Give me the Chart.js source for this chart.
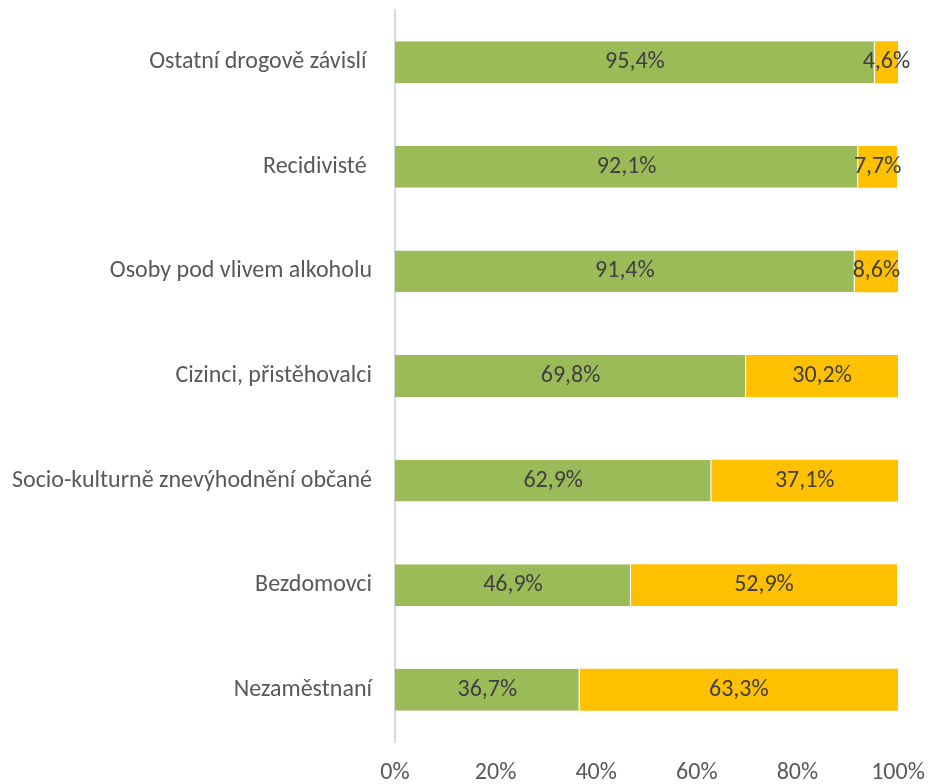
<!DOCTYPE html>
<html>
<head>
<meta charset="utf-8">
<script src="https://cdn.jsdelivr.net/npm/chart.js@4"></script>
<style>
  html, body { margin: 0; padding: 0; background: #fff; }
  #wrap { width: 929px; height: 784px; }
</style>
</head>
<body>
<div id="wrap"><canvas id="chart" width="929" height="784"></canvas></div>
<script>
// Categories and shares (percent)
const categories = [
    'Ostatní drogově závislí ',
    'Recidivisté ',
    'Osoby pod vlivem alkoholu',
    'Cizinci, přistěhovalci',
    'Socio-kulturně znevýhodnění občané',
    'Bezdomovci',
    'Nezaměstnaní'
];
const greenValues = [95.4, 92.1, 91.4, 69.8, 62.9, 46.9, 36.7];
const yellowValues = [4.6, 7.7, 8.6, 30.2, 37.1, 52.9, 63.3];
const tickValues = [0, 20, 40, 60, 80, 100];

const FONT = 'Calibri, Carlito, Lato, sans-serif';
const FONT_SIZE = 24;

// Value labels in the middle of each segment, plus axis labels
// (drawn here so the scales don't add their own padding around the plot)
const labelsPlugin = {
    id: 'labelsPlugin',
    afterDatasetsDraw(chart) {
        const ctx = chart.ctx;
        const xs = chart.scales.x;
        const ys = chart.scales.y;
        ctx.save();
        ctx.font = FONT_SIZE + 'px ' + FONT;
        ctx.textBaseline = 'middle';

        // segment values
        ctx.fillStyle = '#404040';
        ctx.textAlign = 'center';
        chart.data.datasets.forEach((ds, i) => {
            chart.getDatasetMeta(i).data.forEach((bar, j) => {
                const cx = (bar.x + bar.base) / 2;
                ctx.fillText(ds.data[j].toFixed(1).replace('.', ',') + '%', cx, bar.y);
            });
        });

        // category labels
        ctx.fillStyle = '#595959';
        ctx.textAlign = 'right';
        categories.forEach((c, i) => {
            ctx.fillText(c, xs.left - 23, ys.getPixelForValue(i));
        });

        // x tick labels
        ctx.textAlign = 'center';
        tickValues.forEach(v => {
            ctx.fillText(v + '%', xs.getPixelForValue(v), chart.chartArea.bottom + 31);
        });
        ctx.restore();
    }
};

new Chart(document.getElementById('chart'), {
    type: 'bar',
    data: {
        labels: categories,
        datasets: [
            {
                data: greenValues,
                backgroundColor: '#9BBB59',
                borderColor: '#ffffff',
                borderWidth: { right: 1 },
                borderSkipped: false,
                categoryPercentage: 1,
                barPercentage: 0.4
            },
            {
                data: yellowValues,
                backgroundColor: '#FFC000',
                categoryPercentage: 1,
                barPercentage: 0.4
            }
        ]
    },
    options: {
        indexAxis: 'y',
        responsive: false,
        animation: false,
        layout: { padding: { top: 10, right: 31, left: 0, bottom: 0 } },
        plugins: {
            legend: { display: false },
            tooltip: { enabled: false }
        },
        scales: {
            x: {
                stacked: true,
                min: 0,
                max: 100,
                afterFit(scale) { scale.height = 42; },
                grid: { display: false, drawTicks: false },
                border: { display: false },
                ticks: { display: false }
            },
            y: {
                stacked: true,
                afterFit(scale) { scale.width = 395; },
                grid: { display: false, drawTicks: false },
                border: { display: true, color: '#d9d9d9', width: 2 },
                ticks: { display: false }
            }
        }
    },
    plugins: [labelsPlugin]
});
</script>
</body>
</html>
